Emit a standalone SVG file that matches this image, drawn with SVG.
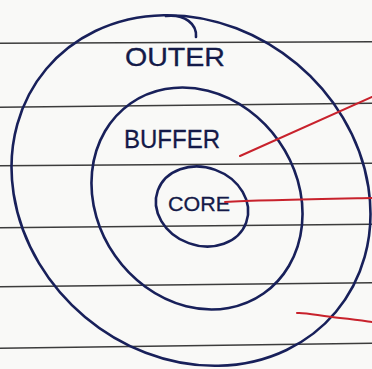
<svg xmlns="http://www.w3.org/2000/svg" width="372" height="369" viewBox="0 0 372 369">
<style>
.rule{stroke:#3c3c3c;stroke-width:1.6;fill:none}
.ink{stroke:#18205a;stroke-width:2.6;fill:none;stroke-linecap:round;stroke-linejoin:round}
.red{stroke:#c8222c;stroke-width:2;fill:none;stroke-linecap:round}
.lbl{font-family:"Liberation Sans",Arial,sans-serif;fill:#141a48;stroke:#141a48;stroke-width:0.3}
</style>
<rect width="372" height="369" fill="#f9f9f7"/>
<g id="paper-lines">
<line class="rule" x1="0" y1="43.3" x2="372" y2="41.7"/>
<line class="rule" x1="0" y1="107.3" x2="372" y2="103.3"/>
<line class="rule" x1="0" y1="165.7" x2="372" y2="163.3"/>
<line class="rule" x1="0" y1="227.7" x2="372" y2="224.3"/>
<line class="rule" x1="0" y1="286.7" x2="372" y2="282.7"/>
<line class="rule" x1="0" y1="348.3" x2="372" y2="343.3"/>
</g>
<g id="outer">
<ellipse class="ink" cx="191" cy="190.5" rx="189" ry="165" transform="rotate(40 191 190.5)"/>
<path class="ink" d="M166,16 C185,14 197,24 196,37"/>
<text class="lbl" x="125" y="66" font-size="25" textLength="100" lengthAdjust="spacingAndGlyphs">OUTER</text>
</g>
<g id="buffer">
<ellipse class="ink" cx="197" cy="198.5" rx="116" ry="100" transform="rotate(55 197 198.5)"/>
<text class="lbl" x="124" y="148" font-size="25" textLength="96" lengthAdjust="spacingAndGlyphs">BUFFER</text>
</g>
<g id="core">
<ellipse class="ink" cx="202" cy="206.5" rx="47" ry="39" transform="rotate(20 202 206.5)"/>
<text class="lbl" x="168" y="211" font-size="21" textLength="62" lengthAdjust="spacingAndGlyphs">CORE</text>
</g>
<g id="connectors">
<path class="red" d="M240,156 L372,97"/>
<path class="red" d="M225,202 C260,200 320,199 372,198"/>
<path class="red" d="M297,313 C305,312 320,316 340,318 S365,321 372,322"/>
</g>
</svg>
